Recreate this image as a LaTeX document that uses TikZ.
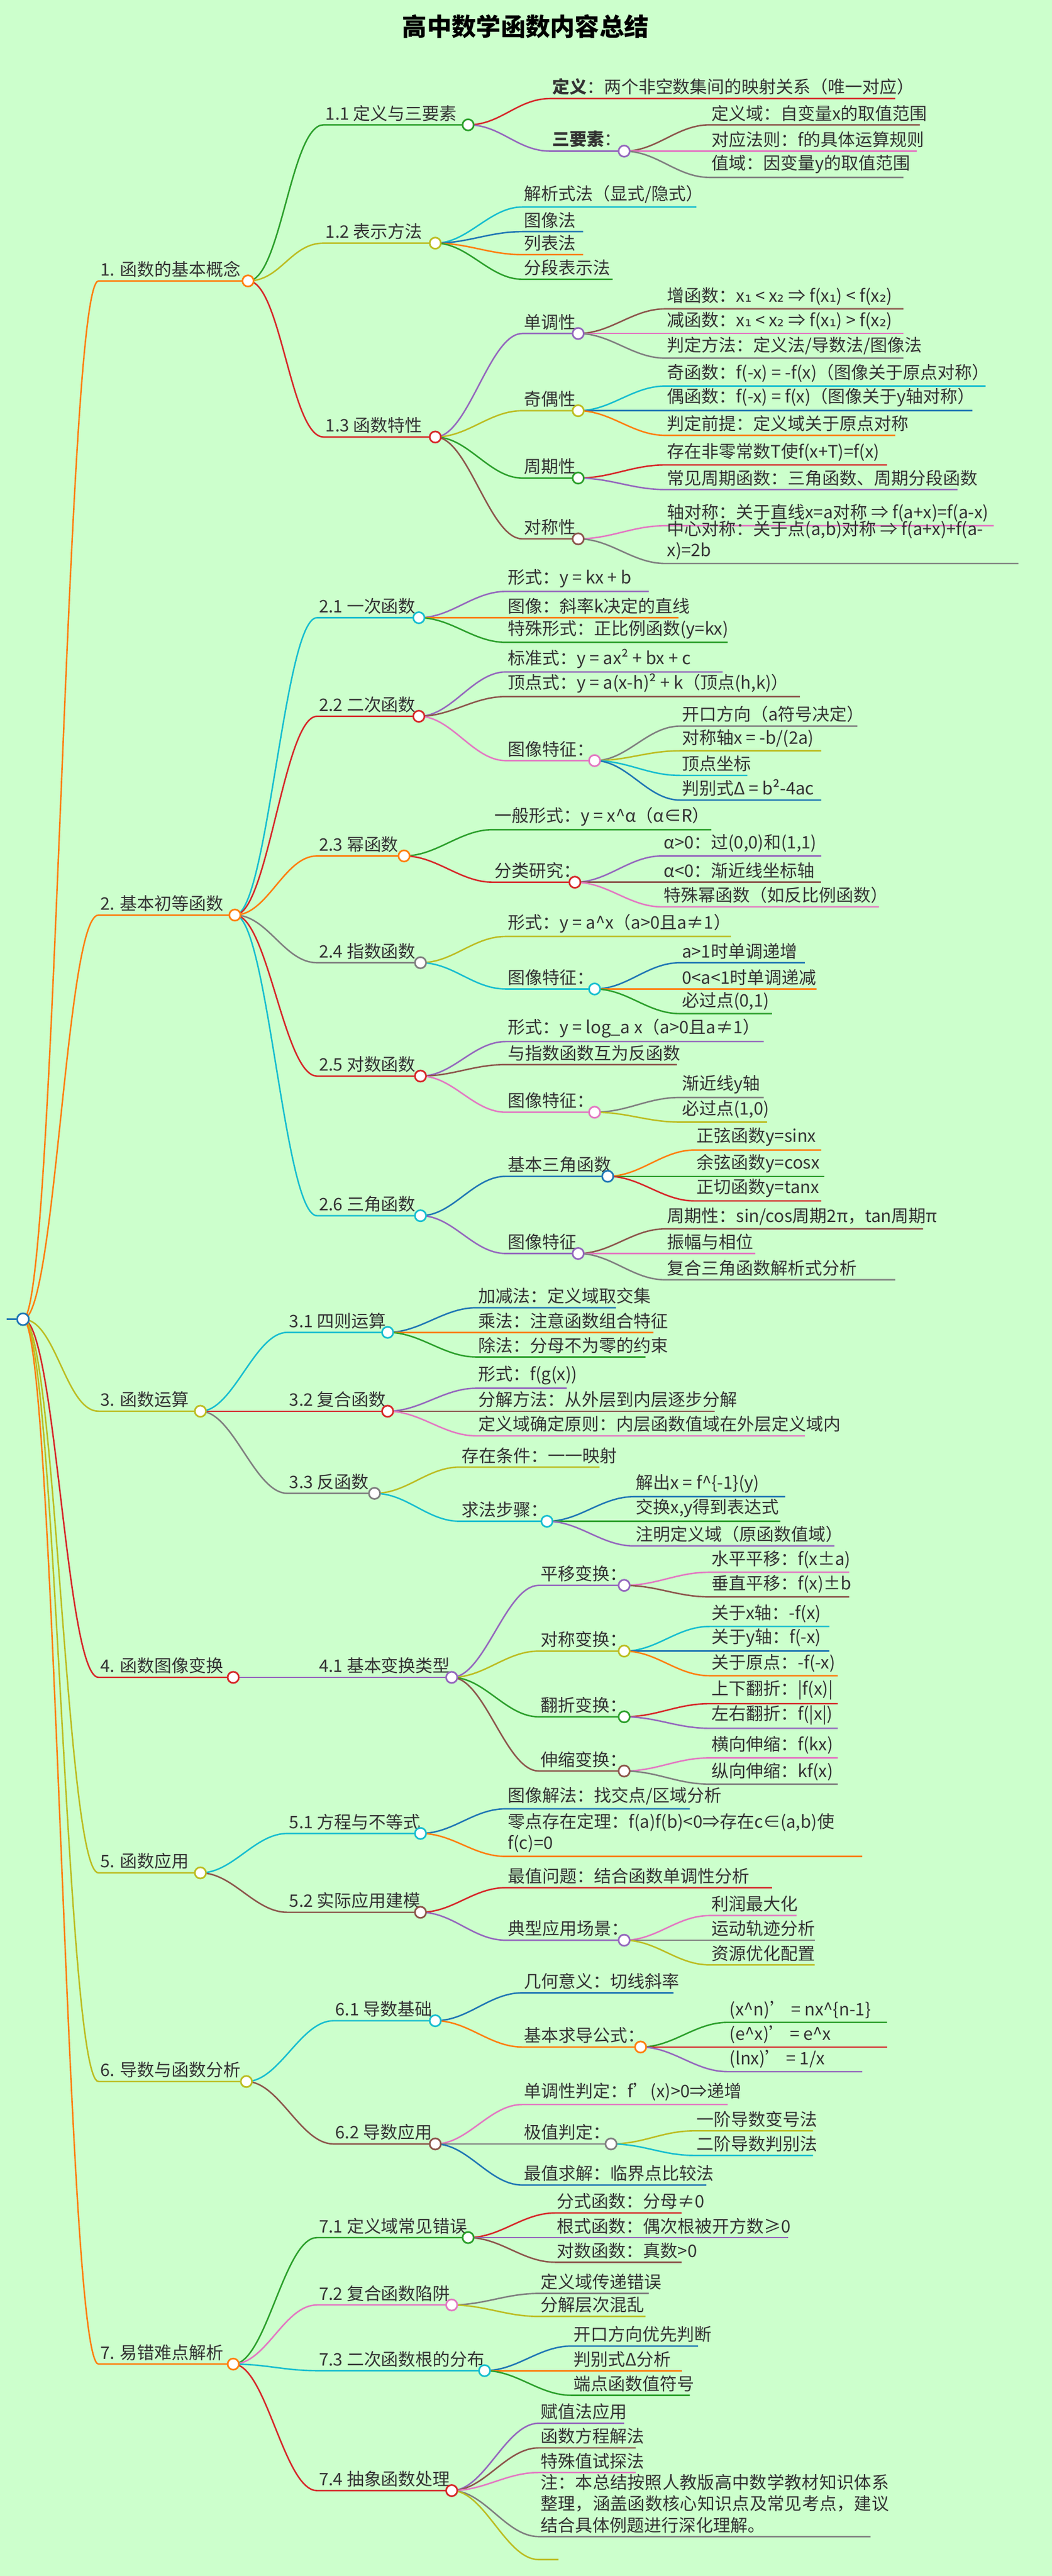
\documentclass[tikz,border=0pt]{standalone}
\usepackage{fontspec}
\setmainfont{Noto Sans CJK SC}
\newfontfamily\symfont{DejaVu Sans}
\XeTeXlinebreaklocale "zh"
\XeTeXlinebreakskip=0pt plus 1pt
\usetikzlibrary{positioning}

\definecolor{bg}{HTML}{CCFFCC}
\definecolor{cred}{HTML}{D62728}
\definecolor{cgreen}{HTML}{2CA02C}
\definecolor{cpurple}{HTML}{9467BD}
\definecolor{cbrown}{HTML}{8C564B}
\definecolor{cpink}{HTML}{E377C2}
\definecolor{cgray}{HTML}{7F7F7F}
\definecolor{colive}{HTML}{BCBD22}
\definecolor{ccyan}{HTML}{17BECF}
\definecolor{cblue}{HTML}{1F77B4}
\definecolor{corange}{HTML}{FF7F0E}

\newcommand\one{{\symfont ₁}}
\newcommand\two{{\symfont ₂}}

\tikzset{
  lbl/.style={inner xsep=1pt, inner ysep=2pt, anchor=south west, font=\fontsize{10.5}{13}\selectfont, text=black!80},
  knot/.style={line width=1pt},
}
% parent, name, start x, end x, y, colour, text
\newcommand\br[7]{%
  \coordinate (#2) at (#4,#5);
  \draw[#6, line width=0.9pt] (#1) .. controls +(20,0) and +(-20,0) .. (#3,#5) -- (#2);
  \node[lbl] (t#2) at (#3,#5) {#7};}

\begin{document}
\begin{tikzpicture}[x=1pt, y=-1pt]
\fill[bg] (0,0) rectangle (640.4,1568);
\useasboundingbox (0,0) rectangle (640.4,1568);

\node[font=\bfseries\fontsize{15}{18}\selectfont] (title) at (320,16) {高中数学函数内容总结};

\coordinate (root) at (14,803);
\draw[cblue, line width=1.2pt] (4,803) -- (root);

% level 1
\br{root}{a1}{60}{151}{171}{corange}{1. 函数的基本概念}
\br{root}{a2}{60}{143}{557}{corange}{2. 基本初等函数}
\br{root}{a3}{60}{122}{859}{colive}{3. 函数运算}
\br{root}{a4}{60}{142}{1021}{cred}{4. 函数图像变换}
\br{root}{a5}{60}{122}{1140}{colive}{5. 函数应用}
\br{root}{a6}{60}{150}{1267}{colive}{6. 导数与函数分析}
\br{root}{a7}{60}{142}{1439}{corange}{7. 易错难点解析}

% 1
\br{a1}{a11}{197}{285}{76}{cgreen}{1.1 定义与三要素}
\br{a11}{a111}{335}{545}{60}{cred}{\textbf{定义}：两个非空数集间的映射关系（唯一对应）}
\br{a11}{a112}{335}{380}{92}{cpurple}{\textbf{三要素}：}
\br{a112}{a1121}{432}{560}{76}{cbrown}{定义域：自变量x的取值范围}
\br{a112}{a1122}{432}{558}{92}{cpink}{对应法则：f的具体运算规则}
\br{a112}{a1123}{432}{550}{108}{cgray}{值域：因变量y的取值范围}
\br{a1}{a12}{197}{265}{148}{colive}{1.2 表示方法}
\br{a12}{a121}{318}{424}{126}{ccyan}{解析式法（显式/隐式）}
\br{a12}{a122}{318}{355}{141}{cblue}{图像法}
\br{a12}{a123}{318}{355}{155}{corange}{列表法}
\br{a12}{a124}{318}{373}{170}{cgreen}{分段表示法}
\br{a1}{a13}{197}{265}{266}{cred}{1.3 函数特性}
\br{a13}{a131}{318}{352}{203}{cpurple}{单调性}
\br{a131}{a1311}{405}{550}{188}{cbrown}{增函数：x\one{} < x\two{} ⇒ f(x\one) < f(x\two)}
\br{a131}{a1312}{405}{550}{203}{cpink}{减函数：x\one{} < x\two{} ⇒ f(x\one) > f(x\two)}
\br{a131}{a1313}{405}{550}{218}{cgray}{判定方法：定义法/导数法/图像法}
\br{a13}{a132}{318}{352}{250}{colive}{奇偶性}
\br{a132}{a1321}{405}{600}{235}{ccyan}{奇函数：f(-x) = -f(x)（图像关于原点对称）}
\br{a132}{a1322}{405}{592}{250}{cblue}{偶函数：f(-x) = f(x)（图像关于y轴对称）}
\br{a132}{a1323}{405}{545}{265}{corange}{判定前提：定义域关于原点对称}
\br{a13}{a133}{318}{352}{291}{cgreen}{周期性}
\br{a133}{a1331}{405}{540}{283}{cred}{存在非零常数T使f(x+T)=f(x)}
\br{a133}{a1332}{405}{583}{298}{cpurple}{常见周期函数：三角函数、周期分段函数}
\br{a13}{a134}{318}{352}{328}{cbrown}{对称性}
\br{a134}{a1341}{405}{605}{320}{cpink}{轴对称：关于直线x=a对称 ⇒ f(a+x)=f(a-x)}
\br{a134}{a1342}{405}{620}{343}{cgray}{\parbox[b]{210pt}{中心对称：关于点(a,b)对称 ⇒ f(a+x)+f(a-\\x)=2b}}

% 2
\br{a2}{a21}{193}{255}{376}{ccyan}{2.1 一次函数}
\br{a21}{a211}{308}{395}{360}{cpurple}{形式：y = kx + b}
\br{a21}{a212}{308}{413}{376}{corange}{图像：斜率k决定的直线}
\br{a21}{a213}{308}{443}{391}{cgreen}{特殊形式：正比例函数(y=kx)}
\br{a2}{a22}{193}{255}{436}{cred}{2.2 二次函数}
\br{a22}{a221}{308}{440}{409}{cpurple}{标准式：y = ax² + bx + c}
\br{a22}{a222}{308}{487}{424}{cbrown}{顶点式：y = a(x-h)² + k（顶点(h,k)）}
\br{a22}{a223}{308}{362}{463}{cpink}{图像特征：}
\br{a223}{a2231}{414}{522}{442}{cgray}{开口方向（a符号决定）}
\br{a223}{a2232}{414}{500}{457}{colive}{对称轴x = -b/(2a)}
\br{a223}{a2233}{414}{455}{472}{ccyan}{顶点坐标}
\br{a223}{a2234}{414}{500}{487}{cblue}{判别式Δ = b²-4ac}
\br{a2}{a23}{193}{246}{521}{corange}{2.3 幂函数}
\br{a23}{a231}{300}{433}{505}{cgreen}{一般形式：y = x\^{}α（α∈R）}
\br{a23}{a232}{300}{350}{537}{cred}{分类研究：}
\br{a232}{a2321}{403}{500}{521}{cpurple}{α>0：过(0,0)和(1,1)}
\br{a232}{a2322}{403}{500}{537}{cbrown}{α<0：渐近线坐标轴}
\br{a232}{a2323}{403}{535}{552}{cpink}{特殊幂函数（如反比例函数）}
\br{a2}{a24}{193}{256}{586}{cgray}{2.4 指数函数}
\br{a24}{a241}{308}{445}{570}{colive}{形式：y = a\^{}x（a>0且a≠1）}
\br{a24}{a242}{308}{362}{602}{ccyan}{图像特征：}
\br{a242}{a2421}{414}{490}{586}{cblue}{a>1时单调递增}
\br{a242}{a2422}{414}{497}{602}{corange}{0<a<1时单调递减}
\br{a242}{a2423}{414}{470}{617}{cgreen}{必过点(0,1)}
\br{a2}{a25}{193}{256}{655}{cred}{2.5 对数函数}
\br{a25}{a251}{308}{465}{634}{cpurple}{形式：y = log\_a x（a>0且a≠1）}
\br{a25}{a252}{308}{412}{648}{cbrown}{与指数函数互为反函数}
\br{a25}{a253}{308}{362}{677}{cpink}{图像特征：}
\br{a253}{a2531}{414}{465}{668}{cgray}{渐近线y轴}
\br{a253}{a2532}{414}{467}{683}{colive}{必过点(1,0)}
\br{a2}{a26}{193}{256}{740}{ccyan}{2.6 三角函数}
\br{a26}{a261}{308}{370}{716}{cblue}{基本三角函数}
\br{a261}{a2611}{423}{500}{700}{corange}{正弦函数y=sinx}
\br{a261}{a2612}{423}{502}{716}{cgreen}{余弦函数y=cosx}
\br{a261}{a2613}{423}{500}{731}{cred}{正切函数y=tanx}
\br{a26}{a262}{308}{352}{763}{cpurple}{图像特征}
\br{a262}{a2621}{405}{562}{748}{cbrown}{周期性：sin/cos周期2π，tan周期π}
\br{a262}{a2622}{405}{460}{763}{cpink}{振幅与相位}
\br{a262}{a2623}{405}{545}{779}{cgray}{复合三角函数解析式分析}

% 3
\br{a3}{a31}{175}{236}{811}{ccyan}{3.1 四则运算}
\br{a31}{a311}{290}{375}{796}{cblue}{加减法：定义域取交集}
\br{a31}{a312}{290}{398}{811}{corange}{乘法：注意函数组合特征}
\br{a31}{a313}{290}{393}{826}{cgreen}{除法：分母不为零的约束}
\br{a3}{a32}{175}{236}{859}{cred}{3.2 复合函数}
\br{a32}{a321}{290}{345}{845}{cpurple}{形式：f(g(x))}
\br{a32}{a322}{290}{435}{859}{cbrown}{分解方法：从外层到内层逐步分解}
\br{a32}{a323}{290}{490}{874}{cpink}{定义域确定原则：内层函数值域在外层定义域内}
\br{a3}{a33}{175}{228}{909}{cgray}{3.3 反函数}
\br{a33}{a331}{280}{365}{893}{colive}{存在条件：一一映射}
\br{a33}{a332}{280}{333}{926}{ccyan}{求法步骤：}
\br{a332}{a3321}{386}{478}{911}{cblue}{解出x = f\^{}\{-1\}(y)}
\br{a332}{a3322}{386}{475}{926}{cgreen}{交换x,y得到表达式}
\br{a332}{a3323}{386}{508}{941}{cpurple}{注明定义域（原函数值域）}

% 4
\br{a4}{a41}{193}{275}{1021}{cpurple}{4.1 基本变换类型}
\br{a41}{a411}{328}{380}{965}{cpurple}{平移变换：}
\br{a411}{a4111}{432}{517}{957}{cpink}{水平平移：f(x±a)}
\br{a411}{a4112}{432}{517}{972}{cbrown}{垂直平移：f(x)±b}
\br{a41}{a412}{328}{380}{1005}{colive}{对称变换：}
\br{a412}{a4121}{432}{505}{990}{ccyan}{关于x轴：-f(x)}
\br{a412}{a4122}{432}{505}{1005}{cblue}{关于y轴：f(-x)}
\br{a412}{a4123}{432}{510}{1020}{corange}{关于原点：-f(-x)}
\br{a41}{a413}{328}{380}{1045}{cgreen}{翻折变换：}
\br{a413}{a4131}{432}{510}{1037}{cred}{上下翻折：|f(x)|}
\br{a413}{a4132}{432}{510}{1052}{cpurple}{左右翻折：f(|x|)}
\br{a41}{a414}{328}{380}{1078}{cbrown}{伸缩变换：}
\br{a414}{a4141}{432}{510}{1070}{cpink}{横向伸缩：f(kx)}
\br{a414}{a4142}{432}{510}{1086}{cgray}{纵向伸缩：kf(x)}

% 5
\br{a5}{a51}{175}{256}{1116}{ccyan}{5.1 方程与不等式}
\br{a51}{a511}{308}{420}{1101}{cblue}{图像解法：找交点/区域分析}
\br{a51}{a512}{308}{525}{1130}{corange}{\parbox[b]{215pt}{零点存在定理：f(a)f(b)<0⇒存在c∈(a,b)使\\f(c)=0}}
\br{a5}{a52}{175}{256}{1164}{cbrown}{5.2 实际应用建模}
\br{a52}{a521}{308}{470}{1149}{cred}{最值问题：结合函数单调性分析}
\br{a52}{a522}{308}{380}{1181}{cpurple}{典型应用场景：}
\br{a522}{a5221}{432}{485}{1166}{cpink}{利润最大化}
\br{a522}{a5222}{432}{496}{1181}{cgray}{运动轨迹分析}
\br{a522}{a5223}{432}{496}{1196}{colive}{资源优化配置}

% 6
\br{a6}{a61}{203}{265}{1230}{ccyan}{6.1 导数基础}
\br{a61}{a611}{318}{410}{1213}{cblue}{几何意义：切线斜率}
\br{a61}{a612}{318}{390}{1246}{corange}{基本求导公式：}
\br{a612}{a6121}{443}{540}{1231}{cgreen}{(x\^{}n)' = nx\^{}\{n-1\}}
\br{a612}{a6122}{443}{540}{1246}{cred}{(e\^{}x)' = e\^{}x}
\br{a612}{a6123}{443}{525}{1261}{cpurple}{(lnx)' = 1/x}
\br{a6}{a62}{203}{265}{1305}{cbrown}{6.2 导数应用}
\br{a62}{a621}{318}{443}{1281}{cpink}{单调性判定：f'(x)>0⇒递增}
\br{a62}{a622}{318}{372}{1305}{cgray}{极值判定：}
\br{a622}{a6221}{423}{495}{1297}{colive}{一阶导数变号法}
\br{a622}{a6222}{423}{495}{1312}{ccyan}{二阶导数判别法}
\br{a62}{a623}{318}{430}{1330}{cblue}{最值求解：临界点比较法}

% 7
\br{a7}{a71}{193}{285}{1362}{cgreen}{7.1 定义域常见错误}
\br{a71}{a711}{338}{415}{1347}{cred}{分式函数：分母≠0}
\br{a71}{a712}{338}{480}{1362}{cpurple}{根式函数：偶次根被开方数≥0}
\br{a71}{a713}{338}{415}{1377}{cbrown}{对数函数：真数>0}
\br{a7}{a72}{193}{275}{1403}{cpink}{7.2 复合函数陷阱}
\br{a72}{a721}{328}{395}{1396}{cgray}{定义域传递错误}
\br{a72}{a722}{328}{393}{1410}{colive}{分解层次混乱}
\br{a7}{a73}{193}{295}{1443}{ccyan}{7.3 二次函数根的分布}
\br{a73}{a731}{348}{425}{1428}{cblue}{开口方向优先判断}
\br{a73}{a732}{348}{415}{1443}{corange}{判别式Δ分析}
\br{a73}{a733}{348}{420}{1458}{cgreen}{端点函数值符号}
\br{a7}{a74}{193}{275}{1516}{cred}{7.4 抽象函数处理}
\br{a74}{a741}{328}{380}{1475}{cpurple}{赋值法应用}
\br{a74}{a742}{328}{387}{1490}{cbrown}{函数方程解法}
\br{a74}{a743}{328}{387}{1505}{cpink}{特殊值试探法}
\br{a74}{a744}{328}{530}{1544}{cgray}{\parbox[b]{212pt}{注：本总结按照人教版高中数学教材知识体系整理，涵盖函数核心知识点及常见考点，建议结合具体例题进行深化理解。}}
\br{a74}{a745}{328}{340}{1558}{colive}{}

% knots
\draw[knot, cblue, fill=white] (root) circle (3.6);
\foreach \n/\c in {a1/corange, a2/corange, a3/colive, a4/cred, a5/colive, a6/colive, a7/corange,
    a11/cgreen, a112/cpurple, a12/colive, a13/cred, a131/cpurple, a132/colive, a133/cgreen, a134/cbrown,
    a21/ccyan, a22/cred, a223/cpink, a23/corange, a232/cred, a24/cgray, a242/ccyan, a25/cred, a253/cpink,
    a26/ccyan, a261/cblue, a262/cpurple, a31/ccyan, a32/cred, a33/cgray, a332/ccyan,
    a41/cpurple, a411/cpurple, a412/colive, a413/cgreen, a414/cbrown, a51/ccyan, a52/cbrown, a522/cpurple,
    a61/ccyan, a612/corange, a62/cbrown, a622/cgray, a71/cgreen, a72/cpink, a73/ccyan, a74/cred}
  \draw[knot, draw=\c, fill=white] (\n) circle (3.4);
\end{tikzpicture}
\end{document}
